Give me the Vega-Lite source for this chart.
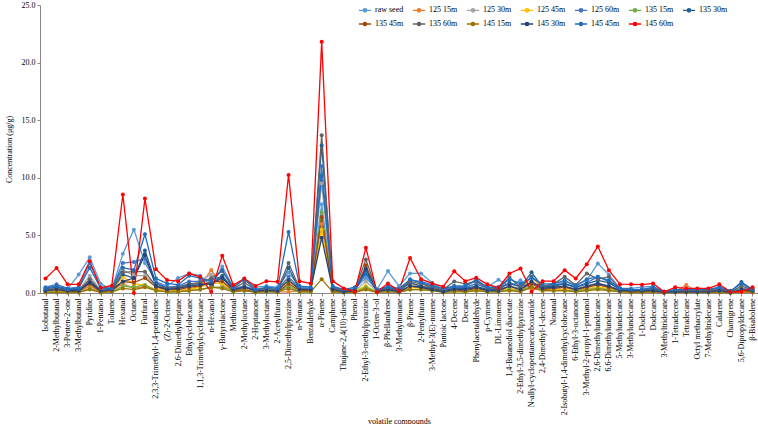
{
"$schema":"https://vega.github.io/schema/vega-lite/v6.json",
"width":718,"height":288,
"autosize":{"type":"none"},
"padding":{"left":40,"top":5,"right":0,"bottom":131},
"config":{"font":"Liberation Serif","view":{"stroke":null},"axis":{"grid":false,"titleColor":"#000000","labelColor":"#000000"}},
"data":{"values":[
{"c":"Isobutanal","raw seed":0.45,"125 15m":0.15,"125 30m":0.2,"125 45m":0.1,"125 60m":0.5,"135 15m":0.1,"135 30m":0.35,"135 45m":0.2,"135 60m":0.3,"145 15m":0.05,"145 30m":0.2,"145 45m":0.4,"145 60m":1.26},
{"c":"2-Methylbutanal","raw seed":0.6,"125 15m":0.2,"125 30m":0.3,"125 45m":0.15,"125 60m":0.75,"135 15m":0.1,"135 30m":0.5,"135 45m":0.3,"135 60m":0.4,"145 15m":0.05,"145 30m":0.3,"145 45m":0.6,"145 60m":2.18},
{"c":"3-Penten-2-one","raw seed":0.35,"125 15m":0.1,"125 30m":0.15,"125 45m":0.1,"125 60m":0.4,"135 15m":0.05,"135 30m":0.3,"135 45m":0.15,"135 60m":0.2,"145 15m":0.05,"145 30m":0.2,"145 45m":0.35,"145 60m":0.75},
{"c":"3-Methylbutanal","raw seed":1.6,"125 15m":0.1,"125 30m":0.2,"125 45m":0.1,"125 60m":0.5,"135 15m":0.05,"135 30m":0.3,"135 45m":0.15,"135 60m":0.2,"145 15m":0.05,"145 30m":0.2,"145 45m":0.4,"145 60m":0.75},
{"c":"Pyridine","raw seed":3.1,"125 15m":0.6,"125 30m":1.5,"125 45m":1.1,"125 60m":2.6,"135 15m":0.4,"135 30m":1.0,"135 45m":0.8,"135 60m":1.2,"145 15m":0.3,"145 30m":0.9,"145 45m":2.2,"145 60m":2.75},
{"c":"1-Pentanol","raw seed":0.8,"125 15m":0.1,"125 30m":0.2,"125 45m":0.1,"125 60m":0.5,"135 15m":0.05,"135 30m":0.2,"135 45m":0.1,"135 60m":0.2,"145 15m":0.05,"145 30m":0.2,"145 45m":0.4,"145 60m":0.46},
{"c":"Toluene","raw seed":0.3,"125 15m":0.2,"125 30m":0.3,"125 45m":0.2,"125 60m":0.4,"135 15m":0.1,"135 30m":0.3,"135 45m":0.2,"135 60m":0.3,"145 15m":0.1,"145 30m":0.3,"145 45m":0.4,"145 60m":0.63},
{"c":"Hexanal","raw seed":3.4,"125 15m":0.8,"125 30m":2.0,"125 45m":1.4,"125 60m":2.6,"135 15m":0.6,"135 30m":1.6,"135 45m":1.0,"135 60m":1.8,"145 15m":0.4,"145 30m":1.0,"145 45m":2.2,"145 60m":8.55},
{"c":"Octane","raw seed":5.5,"125 15m":0.4,"125 30m":1.5,"125 45m":0.8,"125 60m":2.7,"135 15m":0.5,"135 30m":1.3,"135 45m":0.9,"135 60m":1.85,"145 15m":0.3,"145 30m":1.3,"145 45m":2.0,"145 60m":0.0},
{"c":"Furfural","raw seed":2.6,"125 15m":0.6,"125 30m":1.5,"125 45m":0.7,"125 60m":3.0,"135 15m":0.7,"135 30m":3.7,"135 45m":1.3,"135 60m":1.85,"145 15m":0.5,"145 30m":3.3,"145 45m":5.1,"145 60m":8.2},
{"c":"2,3,3-Trimethyl-1,4-pentadiene","raw seed":1.0,"125 15m":0.3,"125 30m":0.6,"125 45m":0.3,"125 60m":0.9,"135 15m":0.2,"135 30m":0.8,"135 45m":0.5,"135 60m":0.6,"145 15m":0.2,"145 30m":0.6,"145 45m":1.26,"145 60m":2.07},
{"c":"(Z)-2-Octene","raw seed":0.6,"125 15m":0.2,"125 30m":0.3,"125 45m":0.2,"125 60m":0.5,"135 15m":0.1,"135 30m":0.4,"135 45m":0.3,"135 60m":0.4,"145 15m":0.1,"145 30m":0.3,"145 45m":0.83,"145 60m":1.12},
{"c":"2,6-Dimethylheptane","raw seed":1.3,"125 15m":0.2,"125 30m":0.4,"125 45m":0.2,"125 60m":0.6,"135 15m":0.1,"135 30m":0.5,"135 45m":0.3,"135 60m":0.5,"145 15m":0.1,"145 30m":0.4,"145 45m":0.7,"145 60m":1.03},
{"c":"Ethylcyclohexane","raw seed":1.7,"125 15m":0.3,"125 30m":0.6,"125 45m":0.3,"125 60m":1.0,"135 15m":0.2,"135 30m":0.8,"135 45m":0.5,"135 60m":0.7,"145 15m":0.2,"145 30m":0.6,"145 45m":1.5,"145 60m":1.69},
{"c":"1,1,3-Trimethylcyclohexane","raw seed":1.5,"125 15m":0.6,"125 30m":1.1,"125 45m":0.5,"125 60m":1.0,"135 15m":0.3,"135 30m":0.8,"135 45m":0.6,"135 60m":0.9,"145 15m":0.3,"145 30m":0.7,"145 45m":1.3,"145 60m":1.4},
{"c":"n-Hexanol","raw seed":0.6,"125 15m":2.0,"125 30m":1.6,"125 45m":0.9,"125 60m":1.2,"135 15m":0.5,"135 30m":0.8,"135 45m":1.0,"135 60m":1.3,"145 15m":0.5,"145 30m":0.8,"145 45m":1.0,"145 60m":0.1},
{"c":"γ-Butyrolactone","raw seed":2.3,"125 15m":0.6,"125 30m":1.0,"125 45m":0.8,"125 60m":1.4,"135 15m":0.5,"135 30m":1.5,"135 45m":1.0,"135 60m":1.9,"145 15m":0.4,"145 30m":1.3,"145 45m":2.0,"145 60m":3.24},
{"c":"Methional","raw seed":0.5,"125 15m":0.3,"125 30m":0.3,"125 45m":0.2,"125 60m":0.4,"135 15m":0.2,"135 30m":0.3,"135 45m":0.2,"135 60m":0.4,"145 15m":0.1,"145 30m":0.3,"145 45m":0.5,"145 60m":0.69},
{"c":"2-Methyloctane","raw seed":1.2,"125 15m":0.3,"125 30m":0.5,"125 45m":0.3,"125 60m":0.6,"135 15m":0.2,"135 30m":0.5,"135 45m":0.3,"135 60m":0.9,"145 15m":0.2,"145 30m":0.5,"145 45m":1.2,"145 60m":1.26},
{"c":"2-Heptanone","raw seed":0.5,"125 15m":0.1,"125 30m":0.2,"125 45m":0.1,"125 60m":0.3,"135 15m":0.1,"135 30m":0.2,"135 45m":0.1,"135 60m":0.3,"145 15m":0.05,"145 30m":0.2,"145 45m":0.3,"145 60m":0.6},
{"c":"3-Methyloctane","raw seed":0.6,"125 15m":0.2,"125 30m":0.3,"125 45m":0.2,"125 60m":0.4,"135 15m":0.1,"135 30m":0.3,"135 45m":0.2,"135 60m":0.4,"145 15m":0.1,"145 30m":0.2,"145 45m":0.5,"145 60m":1.03},
{"c":"2-Acetylfuran","raw seed":0.5,"125 15m":0.1,"125 30m":0.2,"125 45m":0.2,"125 60m":0.3,"135 15m":0.1,"135 30m":0.2,"135 45m":0.1,"135 60m":0.3,"145 15m":0.1,"145 30m":0.2,"145 45m":0.4,"145 60m":0.97},
{"c":"2,5-Dimethylpyrazine","raw seed":1.8,"125 15m":0.1,"125 30m":1.2,"125 45m":1.0,"125 60m":1.4,"135 15m":0.6,"135 30m":2.2,"135 45m":0.8,"135 60m":2.6,"145 15m":0.4,"145 30m":1.1,"145 45m":5.3,"145 60m":10.24},
{"c":"n-Nonane","raw seed":0.5,"125 15m":0.2,"125 30m":0.3,"125 45m":0.2,"125 60m":0.4,"135 15m":0.1,"135 30m":0.3,"135 45m":0.2,"135 60m":0.4,"145 15m":0.1,"145 30m":0.3,"145 45m":0.6,"145 60m":1.03},
{"c":"Benzaldehyde","raw seed":0.4,"125 15m":0.2,"125 30m":0.3,"125 45m":0.2,"125 60m":0.4,"135 15m":0.1,"135 30m":0.3,"135 45m":0.2,"135 60m":0.3,"145 15m":0.1,"145 30m":0.3,"145 45m":0.5,"145 60m":0.83},
{"c":"α-Pinene","raw seed":7.7,"125 15m":6.0,"125 30m":9.5,"125 45m":5.5,"125 60m":11.0,"135 15m":7.0,"135 30m":12.8,"135 45m":6.6,"135 60m":13.7,"145 15m":1.2,"145 30m":4.8,"145 45m":10.2,"145 60m":21.8},
{"c":"Camphene","raw seed":0.5,"125 15m":0.2,"125 30m":0.3,"125 45m":0.2,"125 60m":0.5,"135 15m":0.1,"135 30m":0.4,"135 45m":0.2,"135 60m":0.4,"145 15m":0.1,"145 30m":0.3,"145 45m":0.6,"145 60m":1.03},
{"c":"Thujane-2,4(10)-diene","raw seed":0.2,"125 15m":0.1,"125 30m":0.1,"125 45m":0.1,"125 60m":0.3,"135 15m":0.05,"135 30m":0.2,"135 45m":0.1,"135 60m":0.2,"145 15m":0.05,"145 30m":0.1,"145 45m":0.3,"145 60m":0.4},
{"c":"Phenol","raw seed":0.4,"125 15m":0.1,"125 30m":0.2,"125 45m":0.2,"125 60m":0.3,"135 15m":0.1,"135 30m":0.3,"135 45m":0.1,"135 60m":0.3,"145 15m":0.05,"145 30m":0.2,"145 45m":0.5,"145 60m":0.11},
{"c":"2-Ethyl-3-methylpyrazine","raw seed":1.3,"125 15m":0.4,"125 30m":1.0,"125 45m":0.6,"125 60m":1.6,"135 15m":0.5,"135 30m":1.9,"135 45m":2.4,"135 60m":2.9,"145 15m":0.3,"145 30m":2.1,"145 45m":1.7,"145 60m":3.93},
{"c":"1-Octen-3-ol","raw seed":0.3,"125 15m":0.1,"125 30m":0.2,"125 45m":0.1,"125 60m":0.2,"135 15m":0.1,"135 30m":0.2,"135 45m":0.1,"135 60m":0.2,"145 15m":0.05,"145 30m":0.1,"145 45m":0.3,"145 60m":0.11},
{"c":"β-Phellandrene","raw seed":1.9,"125 15m":0.2,"125 30m":0.4,"125 45m":0.2,"125 60m":0.6,"135 15m":0.2,"135 30m":0.4,"135 45m":0.3,"135 60m":0.5,"145 15m":0.1,"145 30m":0.3,"145 45m":0.5,"145 60m":0.83},
{"c":"3-Methylnonane","raw seed":0.6,"125 15m":0.1,"125 30m":0.2,"125 45m":0.1,"125 60m":0.4,"135 15m":0.1,"135 30m":0.2,"135 45m":0.1,"135 60m":0.3,"145 15m":0.05,"145 30m":0.1,"145 45m":0.3,"145 60m":0.2},
{"c":"β-Pinene","raw seed":1.7,"125 15m":0.4,"125 30m":0.8,"125 45m":0.5,"125 60m":1.1,"135 15m":0.3,"135 30m":0.9,"135 45m":0.6,"135 60m":1.0,"145 15m":0.3,"145 30m":0.6,"145 45m":1.2,"145 60m":3.04},
{"c":"2-Pentylfuran","raw seed":1.7,"125 15m":0.95,"125 30m":0.6,"125 45m":0.4,"125 60m":1.0,"135 15m":0.3,"135 30m":0.6,"135 45m":0.5,"135 60m":0.8,"145 15m":0.3,"145 30m":0.5,"145 45m":0.9,"145 60m":1.2},
{"c":"3-Methyl-3(E)-nonene","raw seed":0.9,"125 15m":0.3,"125 30m":0.4,"125 45m":0.3,"125 60m":0.7,"135 15m":0.2,"135 30m":0.4,"135 45m":0.3,"135 60m":0.5,"145 15m":0.2,"145 30m":0.3,"145 45m":0.6,"145 60m":0.83},
{"c":"Pantoic lactone","raw seed":0.3,"125 15m":0.1,"125 30m":0.2,"125 45m":0.1,"125 60m":0.3,"135 15m":0.1,"135 30m":0.2,"135 45m":0.1,"135 60m":0.3,"145 15m":0.05,"145 30m":0.1,"145 45m":0.4,"145 60m":0.55},
{"c":"4-Decene","raw seed":0.6,"125 15m":0.2,"125 30m":0.4,"125 45m":0.2,"125 60m":0.5,"135 15m":0.2,"135 30m":0.4,"135 45m":0.3,"135 60m":1.0,"145 15m":0.1,"145 30m":0.3,"145 45m":0.6,"145 60m":1.89},
{"c":"Decane","raw seed":0.6,"125 15m":0.2,"125 30m":0.3,"125 45m":0.2,"125 60m":0.5,"135 15m":0.1,"135 30m":0.4,"135 45m":0.2,"135 60m":0.8,"145 15m":0.1,"145 30m":0.3,"145 45m":0.6,"145 60m":1.03},
{"c":"Phenylacetaldehyde","raw seed":1.2,"125 15m":0.3,"125 30m":0.5,"125 45m":0.3,"125 60m":0.8,"135 15m":0.2,"135 30m":0.6,"135 45m":0.4,"135 60m":1.0,"145 15m":0.2,"145 30m":0.5,"145 45m":1.1,"145 60m":1.32},
{"c":"p-Cymene","raw seed":0.5,"125 15m":0.2,"125 30m":0.3,"125 45m":0.2,"125 60m":0.4,"135 15m":0.1,"135 30m":0.3,"135 45m":0.2,"135 60m":0.4,"145 15m":0.1,"145 30m":0.2,"145 45m":0.5,"145 60m":0.75},
{"c":"DL-Limonene","raw seed":1.15,"125 15m":0.2,"125 30m":0.3,"125 45m":0.2,"125 60m":0.5,"135 15m":0.1,"135 30m":0.3,"135 45m":0.2,"135 60m":0.4,"145 15m":0.1,"145 30m":0.2,"145 45m":0.5,"145 60m":0.46},
{"c":"1,4-Butanediol diacetate","raw seed":0.6,"125 15m":0.3,"125 30m":0.6,"125 45m":0.4,"125 60m":0.8,"135 15m":0.3,"135 30m":0.9,"135 45m":0.6,"135 60m":1.35,"145 15m":0.2,"145 30m":0.6,"145 45m":1.2,"145 60m":1.69},
{"c":"2-Ethyl-3,5-dimethylpyrazine","raw seed":1.1,"125 15m":0.2,"125 30m":0.4,"125 45m":0.3,"125 60m":0.6,"135 15m":0.2,"135 30m":0.5,"135 45m":0.3,"135 60m":0.5,"145 15m":0.1,"145 30m":0.3,"145 45m":0.8,"145 60m":2.12},
{"c":"N-allyl-cyclopentanecarboxamide","raw seed":0.4,"125 15m":0.4,"125 30m":1.0,"125 45m":1.4,"125 60m":0.8,"135 15m":0.6,"135 30m":1.8,"135 45m":0.8,"135 60m":1.4,"145 15m":0.5,"145 30m":1.0,"145 45m":1.3,"145 60m":0.11},
{"c":"2,4-Dimethyl-1-decene","raw seed":0.5,"125 15m":0.2,"125 30m":0.4,"125 45m":0.3,"125 60m":0.6,"135 15m":0.2,"135 30m":0.5,"135 45m":0.3,"135 60m":0.6,"145 15m":0.2,"145 30m":0.4,"145 45m":0.8,"145 60m":1.03},
{"c":"Nonanal","raw seed":0.6,"125 15m":0.3,"125 30m":0.4,"125 45m":0.3,"125 60m":0.7,"135 15m":0.2,"135 30m":0.6,"135 45m":0.4,"135 60m":0.8,"145 15m":0.2,"145 30m":0.5,"145 45m":0.8,"145 60m":1.03},
{"c":"2-Isobutyl-1,4-dimethylcyclohexane","raw seed":1.0,"125 15m":0.3,"125 30m":0.5,"125 45m":0.3,"125 60m":0.8,"135 15m":0.2,"135 30m":0.8,"135 45m":0.5,"135 60m":1.4,"145 15m":0.2,"145 30m":0.6,"145 45m":1.1,"145 60m":1.98},
{"c":"6-Ethyl-3-octanone","raw seed":0.7,"125 15m":0.2,"125 30m":0.4,"125 45m":0.2,"125 60m":0.5,"135 15m":0.2,"135 30m":0.5,"135 45m":0.3,"135 60m":0.7,"145 15m":0.1,"145 30m":0.3,"145 45m":0.6,"145 60m":1.26},
{"c":"3-Methyl-2-propyl-1-pentanol","raw seed":1.1,"125 15m":0.3,"125 30m":0.6,"125 45m":0.4,"125 60m":0.9,"135 15m":0.3,"135 30m":0.8,"135 45m":0.5,"135 60m":1.7,"145 15m":0.2,"145 30m":0.6,"145 45m":1.2,"145 60m":2.5},
{"c":"2,6-Dimethylundecane","raw seed":2.55,"125 15m":0.4,"125 30m":0.9,"125 45m":0.5,"125 60m":1.4,"135 15m":0.4,"135 30m":1.1,"135 45m":0.7,"135 60m":1.2,"145 15m":0.3,"145 30m":0.8,"145 45m":1.4,"145 60m":4.04},
{"c":"6,6-Dimethylundecane","raw seed":1.6,"125 15m":0.3,"125 30m":0.6,"125 45m":0.4,"125 60m":1.0,"135 15m":0.3,"135 30m":0.9,"135 45m":0.5,"135 60m":1.4,"145 15m":0.2,"145 30m":0.6,"145 45m":1.1,"145 60m":1.98},
{"c":"5-Methylundecane","raw seed":0.4,"125 15m":0.2,"125 30m":0.3,"125 45m":0.2,"125 60m":0.4,"135 15m":0.1,"135 30m":0.3,"135 45m":0.2,"135 60m":0.4,"145 15m":0.1,"145 30m":0.2,"145 45m":0.4,"145 60m":0.77},
{"c":"3-Methylundecane","raw seed":0.4,"125 15m":0.1,"125 30m":0.2,"125 45m":0.1,"125 60m":0.3,"135 15m":0.1,"135 30m":0.2,"135 45m":0.1,"135 60m":0.3,"145 15m":0.05,"145 30m":0.2,"145 45m":0.3,"145 60m":0.75},
{"c":"1-Dodecene","raw seed":0.5,"125 15m":0.1,"125 30m":0.2,"125 45m":0.1,"125 60m":0.3,"135 15m":0.1,"135 30m":0.2,"135 45m":0.1,"135 60m":0.3,"145 15m":0.05,"145 30m":0.2,"145 45m":0.3,"145 60m":0.72},
{"c":"Dodecane","raw seed":0.6,"125 15m":0.1,"125 30m":0.3,"125 45m":0.2,"125 60m":0.4,"135 15m":0.1,"135 30m":0.3,"135 45m":0.2,"135 60m":0.4,"145 15m":0.1,"145 30m":0.2,"145 45m":0.5,"145 60m":0.83},
{"c":"3-Methyltridecane","raw seed":0.1,"125 15m":0.05,"125 30m":0.05,"125 45m":0.05,"125 60m":0.1,"135 15m":0.05,"135 30m":0.05,"135 45m":0.05,"135 60m":0.1,"145 15m":0.02,"145 30m":0.05,"145 45m":0.1,"145 60m":0.11},
{"c":"1-Tetradecene","raw seed":0.2,"125 15m":0.1,"125 30m":0.2,"125 45m":0.1,"125 60m":0.3,"135 15m":0.1,"135 30m":0.2,"135 45m":0.1,"135 60m":0.2,"145 15m":0.05,"145 30m":0.1,"145 45m":0.3,"145 60m":0.49},
{"c":"Tetradecane","raw seed":0.2,"125 15m":0.7,"125 30m":0.2,"125 45m":0.1,"125 60m":0.3,"135 15m":0.1,"135 30m":0.2,"135 45m":0.1,"135 60m":0.2,"145 15m":0.05,"145 30m":0.1,"145 45m":0.3,"145 60m":0.4},
{"c":"Octyl methacrylate","raw seed":0.3,"125 15m":0.1,"125 30m":0.2,"125 45m":0.1,"125 60m":0.3,"135 15m":0.1,"135 30m":0.2,"135 45m":0.1,"135 60m":0.2,"145 15m":0.05,"145 30m":0.1,"145 45m":0.3,"145 60m":0.4},
{"c":"7-Methyltridecane","raw seed":0.3,"125 15m":0.1,"125 30m":0.2,"125 45m":0.1,"125 60m":0.3,"135 15m":0.1,"135 30m":0.2,"135 45m":0.1,"135 60m":0.2,"145 15m":0.05,"145 30m":0.1,"145 45m":0.3,"145 60m":0.4},
{"c":"Calarene","raw seed":0.5,"125 15m":0.1,"125 30m":0.2,"125 45m":0.1,"125 60m":0.4,"135 15m":0.1,"135 30m":0.3,"135 45m":0.2,"135 60m":0.3,"145 15m":0.05,"145 30m":0.2,"145 45m":0.5,"145 60m":0.75},
{"c":"Chamigrene","raw seed":0.1,"125 15m":0.05,"125 30m":0.1,"125 45m":0.05,"125 60m":0.1,"135 15m":0.05,"135 30m":0.1,"135 45m":0.05,"135 60m":0.1,"145 15m":0.02,"145 30m":0.05,"145 45m":0.2,"145 60m":0.11},
{"c":"5,6-Dipropyldecane","raw seed":0.3,"125 15m":0.1,"125 30m":0.2,"125 45m":0.1,"125 60m":0.4,"135 15m":0.4,"135 30m":0.95,"135 45m":0.2,"135 60m":0.6,"145 15m":0.1,"145 30m":0.3,"145 45m":0.8,"145 60m":0.11},
{"c":"β-Bisabolene","raw seed":0.3,"125 15m":0.1,"125 30m":0.2,"125 45m":0.1,"125 60m":0.3,"135 15m":0.1,"135 30m":0.3,"135 45m":0.1,"135 60m":0.3,"145 15m":0.05,"145 30m":0.2,"145 45m":0.3,"145 60m":0.49}
]},
"transform":[{"fold":["raw seed","125 15m","125 30m","125 45m","125 60m","135 15m","135 30m","135 45m","135 60m","145 15m","145 30m","145 45m","145 60m"],"as":["s","v"]}],
"mark":{"type":"line","strokeWidth":1.3,"point":{"filled":true,"size":16}},
"encoding":{
"x":{"field":"c","type":"nominal","sort":null,"scale":{"type":"point","padding":0.5},
"axis":{"title":"volatile compounds","labelAngle":-90,"labelFontSize":8,"titleFontSize":8,"titleFontWeight":"normal","titleColor":"black","labelPadding":2,"tickSize":3,"domainColor":"#888888","tickColor":"#888888","titleY":124,"labelLimit":200}},
"y":{"field":"v","type":"quantitative","scale":{"domain":[0,25],"nice":false},
"axis":{"values":[0,5,10,15,20,25],"format":".1f","title":"Concentration (μg/g)","titleFontSize":8,"titleFontWeight":"normal","labelFontSize":8,"tickSize":3,"domainColor":"#888888","tickColor":"#888888","titlePadding":8}},
"color":{"field":"s","type":"nominal","sort":null,
"scale":{"domain":["raw seed","125 15m","125 30m","125 45m","125 60m","135 15m","135 30m","135 45m","135 60m","145 15m","145 30m","145 45m","145 60m"],
"range":["#5B9BD5","#ED7D31","#A5A5A5","#FFC000","#4472C4","#70AD47","#255E91","#9E480E","#636363","#997300","#264478","#1F6FC0","#FF0000"]},
"legend":{"title":null,"orient":"none","legendX":318,"legendY":-2,"direction":"horizontal","columns":7,"symbolType":"M-1,0L1,0M-0.28,0A0.28,0.28 0 1,0 0.28,0A0.28,0.28 0 1,0 -0.28,0","symbolStrokeWidth":1.3,"symbolSize":150,"labelFontSize":8,"columnPadding":6,"rowPadding":2,"labelOffset":3,
"encode":{"symbols":{"update":{"fill":{"scale":"color","field":"value"}}}}}}
}
}
